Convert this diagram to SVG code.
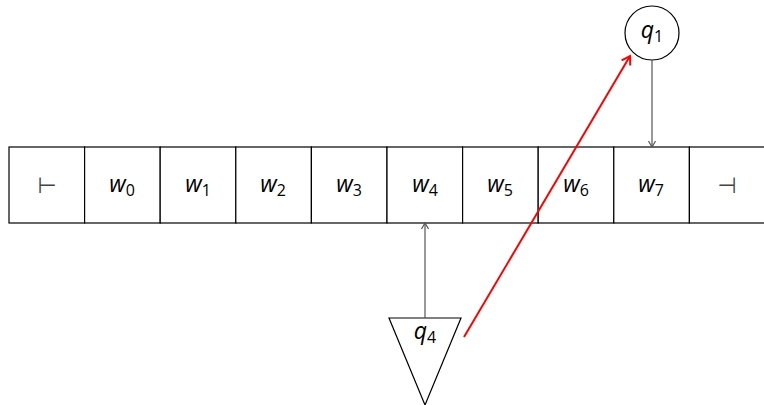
<svg xmlns="http://www.w3.org/2000/svg" width="764" height="405" viewBox="0 0 764 405">
<style>
.cell{fill:#fff;stroke:#000;stroke-width:1.2}
.lbl{font-family:"Open Sans","DejaVu Sans",sans-serif;font-size:23px;font-style:italic;text-anchor:middle;fill:#000}
.sub{font-size:16px;font-style:normal}
.sym{font-family:"DejaVu Sans",sans-serif;font-size:22px;text-anchor:middle;fill:#444}
.conn{stroke:#555;stroke-width:1.2;fill:none}
.red{stroke:#f00;stroke-width:2;fill:none}
</style>
<defs>
<marker id="ag" markerWidth="10" markerHeight="10" refX="8" refY="5" orient="auto" markerUnits="userSpaceOnUse">
<path d="M2,1.5 L8,5 L2,8.5" fill="none" stroke="#555" stroke-width="1.2"/>
</marker>
<marker id="ar" markerWidth="14" markerHeight="14" refX="11" refY="7" orient="auto" markerUnits="userSpaceOnUse">
<path d="M3,2 L11,7 L3,12" fill="none" stroke="#f00" stroke-width="2"/>
</marker>
</defs>
<g id="tape">
<rect class="cell" x="9" y="147" width="75.6" height="76"/>
<rect class="cell" x="84.6" y="147" width="75.6" height="76"/>
<rect class="cell" x="160.2" y="147" width="75.6" height="76"/>
<rect class="cell" x="235.8" y="147" width="75.6" height="76"/>
<rect class="cell" x="311.4" y="147" width="75.6" height="76"/>
<rect class="cell" x="387" y="147" width="75.6" height="76"/>
<rect class="cell" x="462.6" y="147" width="75.6" height="76"/>
<rect class="cell" x="538.2" y="147" width="75.6" height="76"/>
<rect class="cell" x="613.8" y="147" width="75.6" height="76"/>
<rect class="cell" x="689.4" y="147" width="80" height="76"/>
<text class="sym" x="47" y="193">⊢</text>
<text class="lbl" x="122" y="192">w<tspan class="sub" dy="4">0</tspan></text>
<text class="lbl" x="198" y="192">w<tspan class="sub" dy="4">1</tspan></text>
<text class="lbl" x="273" y="192">w<tspan class="sub" dy="4">2</tspan></text>
<text class="lbl" x="349" y="192">w<tspan class="sub" dy="4">3</tspan></text>
<text class="lbl" x="425" y="192">w<tspan class="sub" dy="4">4</tspan></text>
<text class="lbl" x="500" y="192">w<tspan class="sub" dy="4">5</tspan></text>
<text class="lbl" x="576" y="192">w<tspan class="sub" dy="4">6</tspan></text>
<text class="lbl" x="651" y="192">w<tspan class="sub" dy="4">7</tspan></text>
<text class="sym" x="727" y="193">⊣</text>
</g>
<g id="q1">
<circle cx="652" cy="33" r="27" fill="#fff" stroke="#000" stroke-width="1.2"/>
<text class="lbl" x="652" y="38">q<tspan class="sub" dy="4">1</tspan></text>
</g>
<g id="q4">
<polygon points="389,318 461,318 425,405" fill="#fff" stroke="#000" stroke-width="1.2"/>
<text class="lbl" x="425" y="339">q<tspan class="sub" dy="4">4</tspan></text>
</g>
<g id="connectors">
<line class="conn" x1="652" y1="60" x2="652" y2="147" marker-end="url(#ag)"/>
<line class="conn" x1="425" y1="318" x2="425" y2="223" marker-end="url(#ag)"/>
<line class="red" x1="464" y1="337" x2="630" y2="56" marker-end="url(#ar)"/>
</g>
</svg>
